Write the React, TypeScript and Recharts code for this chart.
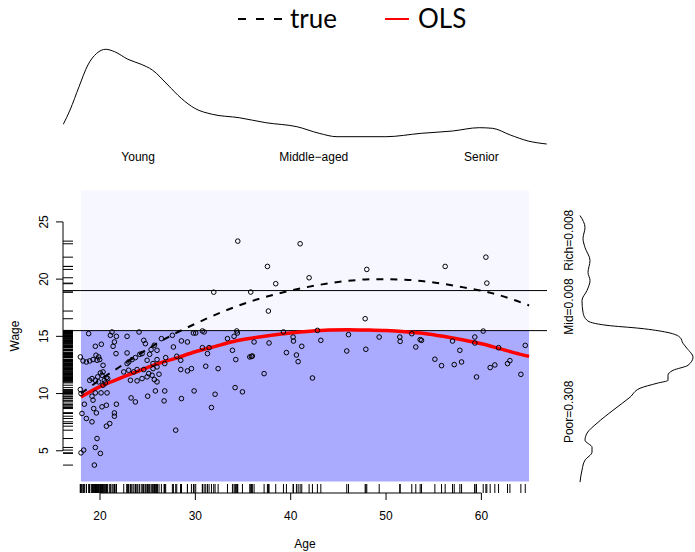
import React from 'react';
import {
  ComposedChart,
  LineChart,
  Scatter,
  Line,
  XAxis,
  YAxis,
  ReferenceArea,
  ReferenceLine,
} from 'recharts';

// ---------------- data ----------------
const observations: [number, number][] = [
  [18.81, 15.24], [21.09, 15.09], [21.26, 15.38], [21.72, 15.0], [22.84, 15.0], [24.1, 15.38],
  [19.51, 14.13], [20.14, 14.31], [21.37, 14.13], [21.51, 14.51], [21.68, 13.49], [22.84, 13.55],
  [24.59, 14.65], [24.76, 14.36], [25.7, 14.22], [25.36, 13.84], [25.98, 13.78],
  [17.94, 13.2], [18.22, 12.85], [18.57, 12.76], [18.92, 12.85], [19.27, 12.97], [19.58, 13.35],
  [19.86, 13.2], [19.97, 12.97], [20.32, 12.47], [19.69, 12.91],
  [22.84, 12.62], [23.36, 12.97], [24.17, 13.43], [24.41, 13.49], [24.94, 12.91], [25.21, 13.43],
  [25.56, 12.62], [25.98, 12.33], [25.98, 12.97], [23.01, 12.76], [23.71, 13.14], [25.56, 12.18],
  [20.04, 11.8], [20.21, 11.6], [20.32, 11.89], [19.76, 11.46], [19.51, 11.16], [19.16, 11.31],
  [18.92, 11.16], [19.86, 11.02], [20.46, 11.16], [20.67, 11.4], [20.81, 11.31], [20.56, 10.93],
  [20.32, 10.73],
  [22.49, 11.89], [23.01, 12.04], [23.54, 11.89], [23.89, 12.1], [24.59, 12.1], [25.11, 11.75],
  [25.46, 11.6], [25.7, 11.22], [24.41, 11.31], [23.89, 11.11], [23.19, 11.16], [24.94, 11.46],
  [25.98, 11.02],
  [17.94, 10.35], [18.01, 10.0], [19.16, 9.77], [19.51, 10.06], [20.11, 10.06], [20.74, 10.06],
  [19.27, 9.42], [18.36, 9.07], [23.26, 9.62], [23.71, 9.27], [25.0, 9.77], [25.81, 10.23],
  [21.72, 9.07], [20.67, 8.98], [20.21, 8.84], [19.34, 8.69], [19.62, 8.31], [18.11, 8.26],
  [18.57, 7.82], [19.16, 7.53], [21.51, 8.31], [21.51, 8.02], [21.02, 7.38], [20.67, 7.15],
  [19.69, 6.07], [19.51, 5.29], [20.04, 4.77], [18.01, 4.82], [18.29, 5.06], [19.41, 3.75],
  [26.44, 14.8], [27.59, 15.09], [29.8, 15.29], [30.04, 15.29], [30.74, 15.47], [30.92, 15.38],
  [34.34, 15.47], [34.41, 15.29], [33.37, 14.8], [34.06, 15.0], [28.54, 14.6], [29.17, 14.51],
  [27.7, 14.07], [30.74, 14.01], [31.44, 14.01], [31.27, 13.49], [33.89, 13.78], [28.05, 13.26],
  [26.89, 13.14], [26.79, 12.62], [28.47, 12.91], [34.24, 12.97], [31.09, 12.39], [29.59, 12.18],
  [29.17, 11.98], [28.47, 12.1], [32.39, 12.18], [26.19, 11.69], [26.79, 10.23], [29.87, 10.23],
  [32.07, 9.94], [34.17, 10.52], [34.94, 10.15], [26.72, 9.36], [28.54, 9.56], [31.69, 8.78],
  [27.94, 6.8],
  [34.45, 23.32], [31.93, 18.86],
  [40.99, 23.09], [37.56, 21.11], [38.43, 19.6], [41.93, 20.12], [35.81, 18.87], [37.66, 17.21],
  [47.98, 20.85], [47.81, 16.54], [39.24, 15.38], [42.8, 15.52], [40.25, 14.94], [40.29, 14.59],
  [41.16, 14.13], [36.16, 14.51], [37.73, 14.42], [43.16, 14.65], [46.06, 15.15], [49.28, 14.94],
  [45.88, 13.72], [47.88, 13.87], [39.55, 13.58], [40.6, 13.37], [40.78, 12.79], [35.71, 13.2],
  [35.98, 13.28], [35.88, 13.25], [37.21, 11.74], [42.28, 11.36],
  [60.47, 21.92], [56.2, 21.11], [60.57, 19.65], [60.19, 15.46], [51.44, 14.94], [51.48, 14.56],
  [52.7, 15.23], [53.58, 14.71], [53.72, 14.65], [53.12, 14.07], [56.97, 14.59], [57.74, 13.78],
  [59.31, 14.94], [59.31, 14.42], [61.8, 14.01], [64.6, 14.21], [55.12, 13.0], [55.82, 12.44],
  [57.15, 12.53], [57.92, 12.76], [59.49, 11.45], [60.92, 12.27], [61.41, 12.5], [62.74, 12.62],
  [62.99, 12.88], [64.14, 11.68],
];

const trueAges = [18, 20, 22, 25, 28, 30, 33, 36, 40, 43, 46, 49, 52, 55, 58, 61, 63, 65];
const trueWages = [10.0, 11.2, 12.3, 13.9, 15.3, 16.1, 17.2, 18.1, 19.0, 19.5, 19.85, 20.0, 19.95, 19.7, 19.3, 18.8, 18.3, 17.7];

const olsAges = [18, 20, 22, 24, 26, 28, 30, 32, 34, 36, 38, 40, 42, 44, 46, 48, 50, 52, 54, 56, 58, 60, 62, 64, 65];
const olsWages = [9.7, 10.6, 11.3, 11.95, 12.6, 13.1, 13.65, 14.1, 14.55, 14.85, 15.1, 15.3, 15.45, 15.55, 15.58, 15.55, 15.5, 15.4, 15.25, 15.0, 14.7, 14.35, 13.9, 13.45, 13.25];

const ageDensAges = [16.15, 16.86, 17.8, 18.73, 19.66, 20.6, 21.53, 22.93, 24.32, 25.49, 27.12, 28.52, 29.93, 31.78, 34.59, 37.39, 40.65, 42.98, 44.85, 49.98, 53.7, 56.97, 59.77, 61.16, 63.03, 64.9, 66.85];
const ageDensValues = [0.0257, 0.04, 0.0633, 0.085, 0.0967, 0.1007, 0.0983, 0.0907, 0.0857, 0.08, 0.065, 0.0517, 0.0417, 0.0357, 0.0323, 0.0273, 0.0233, 0.0167, 0.0133, 0.0133, 0.0167, 0.019, 0.0223, 0.0217, 0.015, 0.009, 0.006];

const wageDensWages = [25.56, 24.51, 23.55, 22.77, 21.63, 20.58, 19.89, 19.01, 18.14, 17.09, 16.4, 15.96, 15.7, 15.35, 14.91, 14.39, 13.95, 13.17, 12.47, 12.03, 11.6, 11.16, 10.9, 10.46, 9.68, 8.54, 7.41, 6.54, 5.92, 5.31, 4.88, 4.18, 3.31, 2.26];
const wageDensValues = [0.002, 0.007, 0.005, 0.007, 0.012, 0.01, 0.012, 0.009, 0.004, 0.005, 0.009, 0.029, 0.062, 0.089, 0.102, 0.105, 0.109, 0.115, 0.11, 0.095, 0.09, 0.09, 0.079, 0.062, 0.052, 0.035, 0.019, 0.009, 0.007, 0.014, 0.014, 0.007, 0.004, 0.002];

const ageGroupLabels = ['Young', 'Middle\u2212aged', 'Senior'];
const ageGroupPositions = [24, 42.42, 60];

const wageGroupLabels = ['Poor=0.308', 'Mid=0.008', 'Rich=0.008'];
const wageGroupPositions = [8.4, 17.6, 23.4];

const ageTicks = [20, 30, 40, 50, 60];
const wageTicks = [5, 10, 15, 20, 25];
const cutoffs = [15.5, 19.0];

const ageRange: [number, number] = [18, 65];
const wageRange: [number, number] = [2.32, 27.74];

// ---------------- derived tables ----------------
const X_DOMAIN: [number, number] = [16.12, 66.88];
const Y_DOMAIN: [number, number] = [1.31, 28.75];

const pointData = observations.map(([age, wage]) => ({ age, wage }));
const rugXData = observations.map(([age]) => ({ age, wage: Y_DOMAIN[0] }));
const rugYData = observations.map(([, wage]) => ({ age: X_DOMAIN[0], wage }));
const trueData = trueAges.map((age, i) => ({ age, wage: trueWages[i] }));
const olsData = olsAges.map((age, i) => ({ age, wage: olsWages[i] }));
const ageDensData = ageDensAges.map((age, i) => ({ age, dens: ageDensValues[i] }));
const wageDensData = wageDensWages.map((wage, i) => ({ wage, dens: wageDensValues[i] }));

const FONT = '"Liberation Sans", Arial, Helvetica, sans-serif';
const W = 695;
const H = 552;

const layer: React.CSSProperties = { position: 'absolute', left: 0, top: 0 };

const PointShape = (props: any) => {
  const { cx, cy } = props;
  if (cx == null || cy == null) return null;
  return <circle cx={cx} cy={cy} r={2.3} fill="none" stroke="#000" strokeWidth={1} />;
};

const RugXShape = (props: any) => {
  const { cx, cy } = props;
  if (cx == null || cy == null) return null;
  return <line x1={cx} x2={cx} y1={cy} y2={cy - 9} stroke="#000" strokeWidth={1} />;
};

const RugYShape = (props: any) => {
  const { cx, cy } = props;
  if (cx == null || cy == null) return null;
  return <line x1={cx} x2={cx + 10} y1={cy} y2={cy} stroke="#000" strokeWidth={1} />;
};

const RotatedTick = (props: any) => {
  const { x, y, payload, label } = props;
  const text = label ? label(payload.value, payload.index) : payload.value;
  return (
    <text
      x={x}
      y={y}
      transform={`rotate(-90 ${x} ${y})`}
      textAnchor="middle"
      fontSize={12}
      fontFamily={FONT}
      fill="#000"
    >
      {text}
    </text>
  );
};

const WageLabel = (props: any) => {
  const vb = props.viewBox || { x: 0, y: 179, width: 63, height: 314 };
  const x = vb.x + 18.5;
  const y = vb.y + vb.height / 2;
  return (
    <text x={x} y={y} transform={`rotate(-90 ${x} ${y})`} textAnchor="middle" fontSize={12} fontFamily={FONT} fill="#000">
      Wage
    </text>
  );
};

export default function App() {
  return (
    <div style={{ position: 'absolute', left: 0, top: 0, width: W, height: H, background: '#fff' }}>
      {/* background rectangles and cut-off lines */}
      <div style={layer}>
        <ComposedChart width={W} height={H} margin={{ top: 179, right: 148, bottom: 59, left: 63 }} data={pointData}>
          <XAxis dataKey="age" type="number" domain={X_DOMAIN} hide allowDataOverflow />
          <YAxis dataKey="wage" type="number" domain={Y_DOMAIN} hide allowDataOverflow />
          <ReferenceArea x1={ageRange[0]} x2={ageRange[1]} y1={cutoffs[0]} y2={wageRange[1]} fill="#F7F7FF" fillOpacity={1} stroke="none" ifOverflow="visible" />
          <ReferenceArea x1={ageRange[0]} x2={ageRange[1]} y1={wageRange[0]} y2={cutoffs[0]} fill="#AAAAFF" fillOpacity={1} stroke="none" ifOverflow="visible" />
          {cutoffs.map((c) => (
            <ReferenceLine key={c} y={c} stroke="#000" strokeWidth={1} ifOverflow="visible" />
          ))}
        </ComposedChart>
      </div>

      {/* main scatter */}
      <div style={layer}>
        <ComposedChart width={W} height={H} margin={{ top: 179, right: 148, bottom: 0, left: 0 }}>
          <XAxis
            dataKey="age"
            type="number"
            domain={X_DOMAIN}
            ticks={ageTicks}
            interval={0}
            axisLine={false}
            tickLine={{ stroke: '#000' }}
            tickSize={7}
            tickMargin={11}
            height={59}
            tick={{ fill: '#000', fontSize: 12, fontFamily: FONT }}
            label={{ value: 'Age', position: 'insideBottom', offset: 4, fill: '#000', fontSize: 12, fontFamily: FONT }}
            allowDataOverflow
          />
          <YAxis
            dataKey="wage"
            type="number"
            domain={Y_DOMAIN}
            ticks={wageTicks}
            interval={0}
            axisLine={false}
            tickLine={{ stroke: '#000' }}
            tickSize={7}
            tickMargin={8}
            width={63}
            tick={<RotatedTick />}
            label={<WageLabel />}
            allowDataOverflow
          />
          <ReferenceLine segment={[{ x: ageTicks[0], y: Y_DOMAIN[0] }, { x: ageTicks[ageTicks.length - 1], y: Y_DOMAIN[0] }]} stroke="#000" strokeWidth={1} ifOverflow="visible" />
          <ReferenceLine segment={[{ x: X_DOMAIN[0], y: wageTicks[0] }, { x: X_DOMAIN[0], y: wageTicks[wageTicks.length - 1] }]} stroke="#000" strokeWidth={1} ifOverflow="visible" />
          <Scatter data={rugXData} shape={<RugXShape />} isAnimationActive={false} />
          <Scatter data={rugYData} shape={<RugYShape />} isAnimationActive={false} />
          <Scatter data={pointData} shape={<PointShape />} isAnimationActive={false} />
          <Line data={trueData} dataKey="wage" type="monotone" stroke="#000" strokeWidth={2} strokeDasharray="7 7" dot={false} activeDot={false} isAnimationActive={false} />
          <Line data={olsData} dataKey="wage" type="monotone" stroke="#FF0000" strokeWidth={3.5} dot={false} activeDot={false} isAnimationActive={false} />
        </ComposedChart>
      </div>

      {/* top density of age */}
      <div style={layer}>
        <LineChart width={W} height={175} margin={{ top: 45, right: 148, bottom: 0, left: 63 }} data={ageDensData}>
          <XAxis
            dataKey="age"
            type="number"
            domain={X_DOMAIN}
            ticks={ageGroupPositions}
            interval={0}
            axisLine={false}
            tickLine={false}
            tickSize={0}
            tickMargin={2}
            height={25}
            tickFormatter={(v: number, i: number) => ageGroupLabels[i]}
            tick={{ fill: '#000', fontSize: 12, fontFamily: FONT }}
            allowDataOverflow
          />
          <YAxis type="number" domain={[0, 0.105]} hide allowDataOverflow />
          <Line dataKey="dens" type="monotone" stroke="#000" strokeWidth={1} dot={false} activeDot={false} isAnimationActive={false} />
        </LineChart>
      </div>

      {/* right density of wage */}
      <div style={layer}>
        <ComposedChart layout="vertical" width={W} height={H} margin={{ top: 179, right: 0, bottom: 59, left: 540 }} data={wageDensData}>
          <XAxis type="number" dataKey="dens" domain={[0, 0.117]} hide allowDataOverflow />
          <YAxis
            type="number"
            dataKey="wage"
            domain={Y_DOMAIN}
            reversed
            ticks={wageGroupPositions}
            interval={0}
            axisLine={false}
            tickLine={false}
            tickSize={0}
            tickMargin={5}
            width={38}
            tick={<RotatedTick label={(v: number, i: number) => wageGroupLabels[i]} />}
            allowDataOverflow
          />
          <Line dataKey="dens" type="monotone" stroke="#000" strokeWidth={1} dot={false} activeDot={false} isAnimationActive={false} />
        </ComposedChart>
      </div>

      {/* legend */}
      <svg style={layer} width={W} height={42}>
        <line x1={238} x2={282} y1={19} y2={19} stroke="#000" strokeWidth={2} strokeDasharray="8 10" />
        <text x={290} y={28} fontSize={26} fontFamily="Lato, 'Open Sans', sans-serif" fill="#000">true</text>
        <line x1={385} x2={409} y1={19} y2={19} stroke="#FF0000" strokeWidth={2} />
        <text x={418} y={28} fontSize={26} fontFamily="Lato, 'Open Sans', sans-serif" fill="#000">OLS</text>
      </svg>
    </div>
  );
}
